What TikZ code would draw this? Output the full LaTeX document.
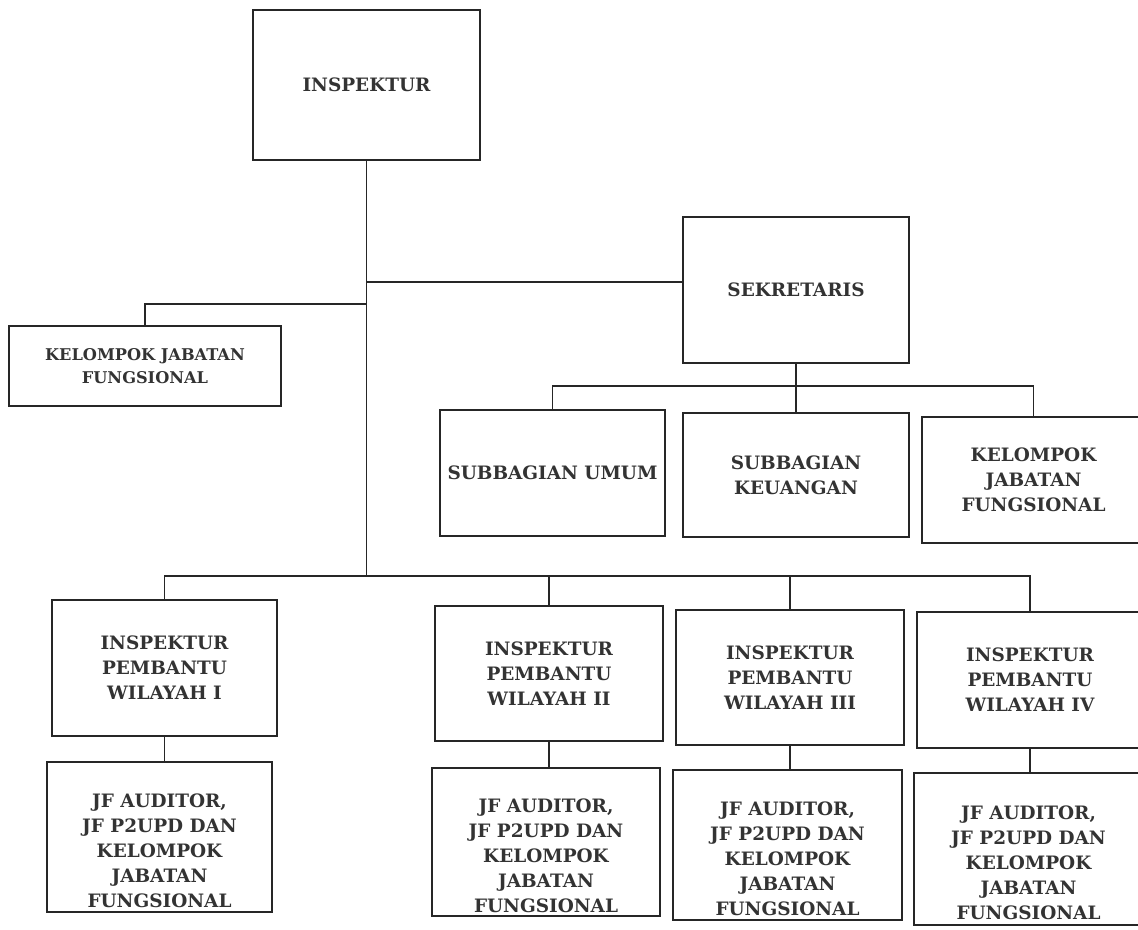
\documentclass[tikz,border=0pt]{standalone}
\usepackage{fontspec}
\setmainfont{DejaVu Serif}
\usepackage{tikz}
\usetikzlibrary{calc}

\begin{document}
\begin{tikzpicture}[
	orgbox/.style={draw=black!85, line width=0.8pt, align=center, inner sep=0pt,
		font=\fontsize{10.5}{14.2}\selectfont\bfseries, text=black!80},
	smallbox/.style={orgbox, font=\fontsize{9.2}{13}\selectfont\bfseries},
	jfbox/.style={orgbox, text height=80pt},
	link/.style={draw=black!85, line width=0.8pt}
	]
			%%%%% START %%%%%
			
			\useasboundingbox (0, 0) rectangle (22.76, -18.58);
			\clip (0, 0) rectangle (22.76, -18.58);
			
			\node[orgbox, minimum width=4.54cm, minimum height=3.00cm] (insp) at (7.33, -1.70) {INSPEKTUR};
			\node[orgbox, minimum width=4.52cm, minimum height=2.92cm] (sek) at (15.92, -5.80) {SEKRETARIS};
			\node[smallbox, minimum width=5.44cm, minimum height=1.60cm] (kjfa) at (2.90, -7.32) {KELOMPOK JABATAN\\FUNGSIONAL};
			
			\node[orgbox, minimum width=4.50cm, minimum height=2.52cm] (umum) at (11.05, -9.46) {SUBBAGIAN UMUM};
			\node[orgbox, minimum width=4.52cm, minimum height=2.48cm] (keu) at (15.92, -9.50) {SUBBAGIAN\\KEUANGAN};
			\node[orgbox, minimum width=4.46cm, minimum height=2.52cm] (kjfb) at (20.67, -9.60) {KELOMPOK\\JABATAN\\FUNGSIONAL};
			
			\node[orgbox, minimum width=4.50cm, minimum height=2.72cm] (ipw1) at (3.29, -13.36) {INSPEKTUR\\PEMBANTU\\WILAYAH I};
			\node[orgbox, minimum width=4.56cm, minimum height=2.70cm] (ipw2) at (10.98, -13.47) {INSPEKTUR\\PEMBANTU\\WILAYAH II};
			\node[orgbox, minimum width=4.56cm, minimum height=2.70cm] (ipw3) at (15.80, -13.55) {INSPEKTUR\\PEMBANTU\\WILAYAH III};
			\node[orgbox, minimum width=4.52cm, minimum height=2.72cm] (ipw4) at (20.60, -13.60) {INSPEKTUR\\PEMBANTU\\WILAYAH IV};
			
			\node[jfbox, minimum width=4.50cm, minimum height=3.00cm] (jf1) at (3.19, -16.74) {JF AUDITOR,\\JF P2UPD DAN\\KELOMPOK\\JABATAN\\FUNGSIONAL};
			\node[jfbox, minimum width=4.56cm, minimum height=2.96cm] (jf2) at (10.92, -16.84) {JF AUDITOR,\\JF P2UPD DAN\\KELOMPOK\\JABATAN\\FUNGSIONAL};
			\node[jfbox, minimum width=4.58cm, minimum height=3.00cm] (jf3) at (15.75, -16.90) {JF AUDITOR,\\JF P2UPD DAN\\KELOMPOK\\JABATAN\\FUNGSIONAL};
			\node[jfbox, minimum width=4.58cm, minimum height=3.04cm] (jf4) at (20.57, -16.98) {JF AUDITOR,\\JF P2UPD DAN\\KELOMPOK\\JABATAN\\FUNGSIONAL};
			
			\coordinate (jsek) at (insp.south |- 0, -5.64);
			\coordinate (jkjf) at (insp.south |- 0, -6.08);
			\coordinate (jsub) at (sek.south |- 0, -7.72);
			\coordinate (jbot) at (insp.south |- 0, -11.52);
			
			\draw[link] (insp.south) -- (jbot);
			\draw[link] (jsek) -- (jsek -| sek.west);
			\draw[link] (jkjf) -| (kjfa.north);
			
			\draw[link] (sek.south) -- (keu.north);
			\draw[link] (umum.north) |- (jsub) -| (kjfb.north);
			
			\draw[link] (ipw1.north) |- (jbot) -| (ipw4.north);
			\draw[link] (jbot) -| (ipw2.north);
			\draw[link] (jbot) -| (ipw3.north);
			
			\draw[link] (ipw1.south) -- (ipw1.south |- jf1.north);
			\draw[link] (ipw2.south) -- (ipw2.south |- jf2.north);
			\draw[link] (ipw3.south) -- (ipw3.south |- jf3.north);
			\draw[link] (ipw4.south) -- (ipw4.south |- jf4.north);
			
			%%%%% END %%%%%
\end{tikzpicture}
\end{document}
